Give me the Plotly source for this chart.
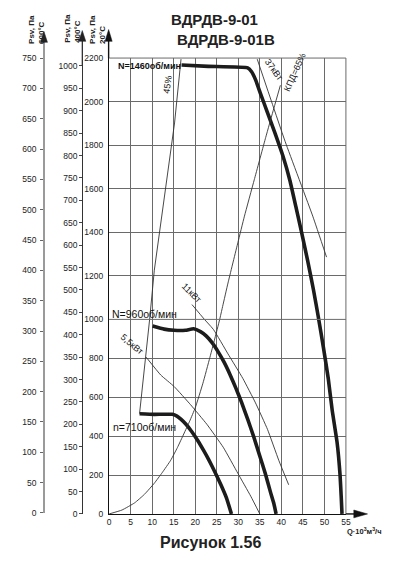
import plotly.graph_objects as go

W, H = 403, 572

# ---------------- data (Q: 10^3 m3/h, P: Pa at 20°C) ----------------
q_n1460 = [16.82, 23.05, 32.18, 33.09, 34.0, 35.14, 36.74, 38.57, 40.39, 41.99, 43.36, 44.73, 46.10,
           47.47, 48.61, 49.75, 50.89, 51.80, 52.94, 53.63, 53.90, 54.09]
p_n1460 = [2168, 2162, 2155, 2137, 2101, 2038, 1952, 1853, 1749, 1638, 1519, 1397, 1271,
           1135, 1009, 859, 697, 535, 369, 202, 91, 0]

q_n960 = [10.11, 12.78, 15.06, 17.73, 19.63, 21.22, 22.59, 23.96, 25.33, 26.70, 28.07, 29.44,
          30.81, 32.18, 33.55, 34.92, 36.29, 37.43, 38.23, 38.79]
p_n960 = [966, 950, 944, 944, 952, 937, 914, 879, 833, 780, 717, 647,
          571, 487, 399, 303, 207, 116, 56, 0]

q_n710 = [7.07, 10.50, 14.67, 15.75, 16.66, 17.80, 19.17, 20.54, 21.91, 23.28, 24.65, 26.02, 27.27, 28.41]
p_n710 = [515, 512, 512, 503, 487, 462, 424, 379, 328, 273, 212, 147, 81, 0]

q_bound45 = [7.07, 10.5, 15.2, 16.7]
p_bound45 = [515, 1226, 1902, 2195]

q_eff65 = [0, 2.97, 5.93, 8.22, 10.50, 12.32, 14.31, 15.86, 17.34, 18.71, 20.01, 21.79, 23.39,
           24.99, 26.36, 27.61, 29.90, 31.43, 33.71, 36.36, 38.27, 39.78]
p_eff65 = [0, 20, 57, 101, 158, 212, 276, 341, 411, 477, 546, 672, 803,
           939, 1059, 1167, 1352, 1474, 1641, 1835, 1970, 2075]

q_pw37 = [34.4, 40.9, 47.3, 50.5]
p_pw37 = [2195, 1816, 1474, 1286]

q_pw11 = [19.25, 24.2, 27.6, 31.05, 34.0, 36.8, 39.4, 41.7]
p_pw11 = [1068, 949, 823, 697, 571, 434, 276, 150]

q_pw55 = [8.6, 12.0, 15.1, 18.9, 22.7, 26.5, 29.9, 32.9, 35.0]
p_pw55 = [806, 714, 655, 562, 461, 343, 209, 91, 0]

x_ticks = list(range(0, 56, 5))
y_ticks_low = list(range(0, 1001, 200))
y_ticks_high = list(range(1200, 2201, 200))
t600_ticks = list(range(0, 751, 50))
t400_ticks = list(range(0, 1001, 50))

# ---------------- geometry helpers (pixels -> paper) ----------------
def fx(x):
    return x / W

def fy(y):
    return 1 - y / H

XL, XR = 109, 350           # Q = 0 / 55
Y0, Y1000, YTOP = 518, 320, 54

fig = go.Figure()

thick = dict(color="#1c1c1c", width=3.6, shape="spline", smoothing=0.4)
thin = dict(color="#333333", width=0.9, shape="spline", smoothing=0.4)
straight = dict(color="#333333", width=0.9)

series = [
    (q_n1460, p_n1460, thick),
    (q_n960, p_n960, thick),
    (q_n710, p_n710, thick),
    (q_bound45, p_bound45, straight),
    (q_eff65, p_eff65, thin),
    (q_pw37, p_pw37, thin),
    (q_pw11, p_pw11, thin),
    (q_pw55, p_pw55, thin),
]
for q, p, st in series:
    for ya in ("y", "y2"):
        fig.add_trace(go.Scatter(x=q, y=p, mode="lines", line=st, xaxis="x", yaxis=ya,
                                 hoverinfo="skip", showlegend=False))

# dummy traces so that the two temperature axes get drawn
fig.add_trace(go.Scatter(x=[0], y=[0], xaxis="x2", yaxis="y3", mode="markers",
                         marker=dict(opacity=0), hoverinfo="skip", showlegend=False))
fig.add_trace(go.Scatter(x=[0], y=[0], xaxis="x2", yaxis="y4", mode="markers",
                         marker=dict(opacity=0), hoverinfo="skip", showlegend=False))

tickfont = dict(family="Liberation Sans, Arial, sans-serif", size=8.5, color="#222")
grid = "#6a6a6a"

r600_top = 750 * (517 - 33) / (517 - 54)
r400_top = 1000 * (518 - 33) / (518 - 62)

fig.update_layout(
    width=W, height=H,
    margin=dict(l=0, r=0, t=0, b=0),
    paper_bgcolor="white", plot_bgcolor="rgba(0,0,0,0)",
    showlegend=False,
    xaxis=dict(domain=[fx(XL), fx(XR)], range=[0, 55], anchor="y",
               tickvals=x_ticks, ticks="", showgrid=True, gridcolor=grid, gridwidth=1,
               zeroline=False, showline=True, linecolor="#111", linewidth=1.4,
               tickfont=tickfont, ticklabelstandoff=0, fixedrange=True),
    yaxis=dict(domain=[fy(Y0), fy(Y1000)], range=[0, 1000], anchor="x",
               tickvals=y_ticks_low, ticks="", showgrid=True, gridcolor=grid, gridwidth=1,
               zeroline=False, showline=True, linecolor="#111", linewidth=1.4,
               tickfont=tickfont, ticklabelstandoff=3),
    yaxis2=dict(domain=[fy(Y1000), fy(YTOP)], range=[1000, 2200], anchor="x",
                tickvals=y_ticks_high, ticks="", showgrid=True, gridcolor=grid, gridwidth=1,
                zeroline=False, showline=True, linecolor="#111", linewidth=1.4,
                tickfont=tickfont, ticklabelstandoff=3),
    xaxis2=dict(domain=[0, 0.005], range=[0, 1], anchor="y3", visible=False),
    yaxis3=dict(domain=[fy(517), fy(33)], range=[0, r600_top], anchor="free",
                position=fx(42.7), tickvals=t600_ticks, ticks="outside", ticklen=3,
                tickcolor="#666", showgrid=False, zeroline=False, showline=True,
                linecolor="#9a9a9a", linewidth=1.6, tickfont=tickfont, ticklabelstandoff=2),
    yaxis4=dict(domain=[fy(518), fy(33)], range=[0, r400_top], anchor="free",
                position=fx(81.7), tickvals=t400_ticks, ticks="outside", ticklen=3,
                tickcolor="#444", showgrid=False, zeroline=False, showline=True,
                linecolor="#333", linewidth=1.2, tickfont=tickfont, ticklabelstandoff=0),
)

shapes = []
def pline(x0, y0, x1, y1, color, width):
    shapes.append(dict(type="line", xref="paper", yref="paper",
                       x0=fx(x0), y0=fy(y0), x1=fx(x1), y1=fy(y1),
                       line=dict(color=color, width=width)))

def tri_up(x, tip, base, half, color="#111"):
    shapes.append(dict(type="path", xref="paper", yref="paper",
                       path=f"M {fx(x)},{fy(tip)} L {fx(x-half)},{fy(base)} L {fx(x+half)},{fy(base)} Z",
                       fillcolor=color, line=dict(color=color, width=0.5)))

# frame (top/right) and 1000 line
pline(XL, YTOP, XR, YTOP, grid, 1)
pline(XR, YTOP, XR, Y0, grid, 1)
pline(XL, Y1000, XR, Y1000, grid, 1)
# main axis extensions & arrows
pline(108.5, YTOP, 108.5, 36, "#111", 1.4)
tri_up(108.5, 25, 37, 3.6)
pline(81.7, 62, 81.7, 36, "#333", 1.2)
tri_up(81.7, 26, 37, 3.6, "#222")
tri_up(42.7, 27, 38, 3.6, "#222")
pline(XR, Y0, 360, Y0, "#111", 1.4)
shapes.append(dict(type="path", xref="paper", yref="paper",
                   path=f"M {fx(372)},{fy(518)} L {fx(358)},{fy(514)} L {fx(358)},{fy(522)} Z",
                   fillcolor="#111", line=dict(color="#111", width=0.5)))
fig.update_layout(shapes=shapes)

ann = []
def text(x, y, s, size=9, bold=False, angle=0, color="#111", family="Liberation Sans, Arial, sans-serif",
         xanchor="center", yanchor="middle", align="center"):
    ann.append(dict(x=fx(x), y=fy(y), xref="paper", yref="paper", showarrow=False,
                    text=f"<b>{s}</b>" if bold else s, textangle=angle,
                    font=dict(family=family, size=size, color=color),
                    xanchor=xanchor, yanchor=yanchor, align=align))

text(216.5, 15, "ВДРДВ-9-01", size=15, bold=True, color="#222")
text(227.5, 35, "ВДРДВ-9-01В", size=15, bold=True, color="#222")
text(212.5, 547, "Рисунок 1.56", size=16, bold=True, color="#222")
text(349, 535, "Q·10<sup>3</sup>м<sup>3</sup>/ч", size=7.5, bold=True, color="#222", xanchor="left")

text(35, 25, "Psv, Па<br>600°C", size=8, bold=True, angle=-90, align="left", color="#222")
text(71.5, 24, "Psv, Па<br>400°C", size=8, bold=True, angle=-90, align="left", color="#222")
text(97, 25, "Psv, Па<br>20°C", size=8, bold=True, angle=-90, align="left", color="#222")

text(116, 62.5, "N=1460об/мин", size=9, bold=True, xanchor="left")
text(110, 314, "N=960об/мин", size=10.5, xanchor="left")
text(111, 429, "n=710об/мин", size=10.5, xanchor="left")

text(168.5, 81.5, "45%", size=9, angle=-82)
text(277, 66, "37кВт", size=9, angle=55)
text(298, 68, "КПД=65%", size=9, angle=-66)
text(193, 293, "11кВт", size=9, angle=45)
text(132, 345, "5,5кВт", size=9, angle=40)

fig.update_layout(annotations=ann)
fig.write_html("out.html")
